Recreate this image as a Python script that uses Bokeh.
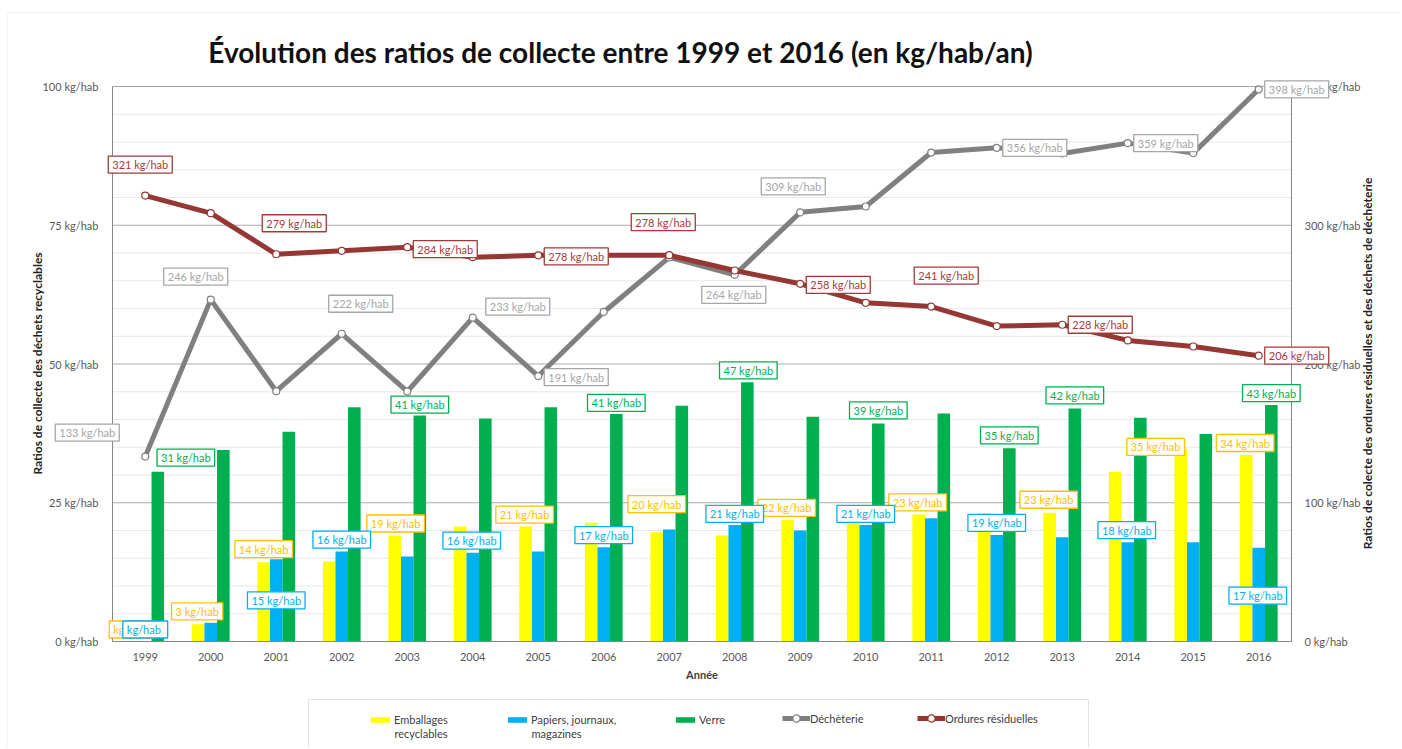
import math
from bokeh.plotting import figure
from bokeh.models import (Range1d, LinearAxis, FixedTicker, Label, Legend, LegendItem,
                          BoxAnnotation, CustomJSTickFormatter)
from bokeh.embed import file_html
from bokeh.resources import INLINE

# ---------------- data ----------------
years = [str(y) for y in range(1999, 2017)]
emballages = [0, 3.1, 14.3, 14.4, 19.1, 20.7, 20.7, 21.4, 19.7, 19.1, 21.9, 21.5, 22.9, 23.1, 23.2, 30.6, 34.7, 33.6]
papiers = [0, 3.4, 14.8, 16.2, 15.3, 16.0, 16.2, 17.0, 20.2, 21.0, 20.0, 21.0, 22.2, 19.2, 18.8, 17.9, 17.9, 16.9]
verre = [30.6, 34.5, 37.8, 42.2, 40.7, 40.2, 42.2, 41.0, 42.5, 46.7, 40.5, 39.3, 41.1, 34.8, 42.0, 40.3, 37.4, 42.6]
decheterie = [133.3, 246.4, 180.4, 221.8, 180.2, 233.4, 191.3, 237.5, 276.8, 264.3, 309.3, 313.5, 352.4, 355.8, 351.7, 359.2, 352.0, 398.0]
ordures = [321.4, 308.7, 279.1, 281.6, 284.2, 277.0, 278.3, 278.3, 278.4, 267.4, 257.8, 244.1, 241.4, 227.3, 228.3, 217.0, 212.6, 206.0]
left_ticks = [0, 25, 50, 75, 100]
right_ticks = [0, 100, 200, 300, 400]
series_names = ["Emballages", "Papiers, journaux,", "Verre", "Déchèterie", "Ordures résiduelles"]
series_second_line = ["recyclables", "magazines"]
title_text = "Évolution des ratios de collecte entre 1999 et 2016 (en kg/hab/an)"
left_title = "Ratios de collecte des déchets recyclables"
right_title = "Ratios de colecte des ordures résiduelles et des déchets de déchèterie"
x_title = "Année"

# data-label placement (which points are labelled, pixel offsets of the label box)
emb_lab_idx = [0, 1, 2, 4, 6, 8, 10, 12, 14, 16, 17]
emb_lab_dx = [-1, -1, 0, 1, -1, 0, -1, -1, -1, -25, -1]
emb_lab_dy = [-12, -13, -13, -12, -12, -28, -12, -12, -13, -2, -12]
pap_lab_idx = [0, 2, 3, 5, 7, 9, 11, 13, 15, 17]
pap_lab_dx = [0, 0, 0, -1, 0, 0, 0, 0, -1, -1]
pap_lab_dy = [-12, 41, -12, -12, -12, -11, -11, -12, -12, 48]
ver_lab_idx = [0, 4, 7, 9, 11, 13, 14, 17]
ver_lab_dx = [28, 0, 0, 1, 0, 0, 0, 0]
ver_lab_dy = [-14, -11, -11, -12, -13, -13, -13, -12]
dec_lab_idx = [0, 1, 3, 5, 6, 9, 10, 13, 15, 17]
dec_lab_dx = [-58, -15, 19, 45, 38, -1, -7, 38, 38, 38]
dec_lab_dy = [-24, -23, -30, -11, 1, 20, -26, 0, 0, 0]
ord_lab_idx = [0, 2, 4, 6, 8, 10, 12, 14, 17]
ord_lab_dx = [-5, 18, 38, 38, -6, 38, 15, 38, 38]
ord_lab_dy = [-31, -31, 2, 1, -33, 1, -31, 0, 0]

# ---------------- style / layout ----------------
FONT = "Lato"
C_YEL, C_BLU, C_GRN = "#FFFF00", "#00B0F0", "#00B050"
C_GRY, C_RED = "#808080", "#953735"
T_YEL, T_BLU, T_GRN, T_GRY, T_RED = "#FFC000", "#00B0F0", "#00B050", "#A6A6A6", "#A5393A"
TICK_COLOR = "#595959"

W, H = 1400, 747
PL, PR, PT, PB = 112, 1291, 86, 641      # plot-area edges in canvas pixels
n = len(years)
PX_X = (PR - PL) / n
PY_L = (PB - PT) / left_ticks[-1]
PY_R = (PB - PT) / right_ticks[-1]

def px_to_x(px):
    return (px - PL) / PX_X

def py_to_y(py):
    return (PB - py) / PY_L

p = figure(width=W, height=H, output_backend="svg", toolbar_location=None,
           x_range=Range1d(px_to_x(0), px_to_x(W)),
           y_range=Range1d(py_to_y(H), py_to_y(0)),
           min_border_left=0, min_border_right=0, min_border_top=0, min_border_bottom=0,
           background_fill_color="white", border_fill_color="white")
p.extra_y_ranges = {"right": Range1d(-(H - PB) / PY_R, PB / PY_R)}
p.outline_line_color = None
p.xgrid.visible = False
p.ygrid.visible = False

def style_axis(ax):
    ax.axis_line_color = "#868686"
    ax.major_tick_line_color = None
    ax.minor_tick_line_color = None
    ax.major_label_text_font = FONT
    ax.major_label_text_font_size = "11px"
    ax.major_label_text_color = TICK_COLOR

# left axis
ya = p.yaxis[0]
ya.fixed_location = 0
ya.bounds = (left_ticks[0], left_ticks[-1])
ya.ticker = FixedTicker(ticks=left_ticks)
ya.formatter = CustomJSTickFormatter(code="return tick + ' kg/hab'")
ya.major_label_standoff = 8
style_axis(ya)

# right axis
ra = LinearAxis(y_range_name="right", ticker=FixedTicker(ticks=right_ticks),
                formatter=CustomJSTickFormatter(code="return tick + ' kg/hab'"))
ra.fixed_location = n
ra.bounds = (right_ticks[0], right_ticks[-1])
ra.major_label_standoff = 7
style_axis(ra)
p.add_layout(ra, "right")

# x axis
xa = p.xaxis[0]
xa.fixed_location = 0
xa.bounds = (0, n)
xa.ticker = FixedTicker(ticks=[i + 0.5 for i in range(n)])
xa.major_label_overrides = {i + 0.5: years[i] for i in range(n)}
xa.major_label_standoff = 5
style_axis(xa)

# grid lines (limited to the plot area)
minor_vals = [v for v in range(0, left_ticks[-1], 5) if v not in left_ticks]
p.segment(x0=[0] * len(minor_vals), x1=[n] * len(minor_vals), y0=minor_vals, y1=minor_vals,
          line_color="#E8E8E8", line_width=1)
p.segment(x0=[0] * 3, x1=[n] * 3, y0=left_ticks[1:4], y1=left_ticks[1:4],
          line_color="#ABABAB", line_width=1)
p.segment(x0=[0], x1=[n], y0=[left_ticks[-1]], y1=[left_ticks[-1]],
          line_color="#A6A6A6", line_width=1)

# ---------------- glyphs ----------------
BW = 0.192
xs = [i + 0.5 for i in range(n)]
r_emb = p.vbar(x=[x - BW for x in xs], top=emballages, width=BW, fill_color=C_YEL, line_color=None)
r_pap = p.vbar(x=xs, top=papiers, width=BW, fill_color=C_BLU, line_color=None)
r_ver = p.vbar(x=[x + BW for x in xs], top=verre, width=BW, fill_color=C_GRN, line_color=None)

r_dec_l = p.line(xs, decheterie, y_range_name="right", line_color=C_GRY, line_width=5)
r_dec_m = p.scatter(xs, decheterie, y_range_name="right", size=7, fill_color="white",
                    line_color=C_GRY, line_width=1.2)
r_ord_l = p.line(xs, ordures, y_range_name="right", line_color=C_RED, line_width=5)
r_ord_m = p.scatter(xs, ordures, y_range_name="right", size=7, fill_color="white",
                    line_color=C_RED, line_width=1.2)

# ---------------- data labels ----------------
def lab_text(v):
    r = int(round(v))
    return f"{r} kg/hab" if r != 0 else " kg/hab"

def add_labels(vals, idx, dxs, dys, shift, color, yname="default"):
    for i, dx, dy in zip(idx, dxs, dys):
        kw = {}
        if yname != "default":
            kw["y_range_name"] = yname
        p.add_layout(Label(x=xs[i] + shift, y=vals[i], x_offset=dx, y_offset=-dy,
                           text=lab_text(vals[i]), text_align="center", text_baseline="middle",
                           text_font=FONT, text_font_size="11px", text_color=color,
                           background_fill_color="white", border_line_color=color,
                           border_line_width=1.3,
                           padding=dict(left=4, right=4, top=2, bottom=2), **kw))

add_labels(emballages, emb_lab_idx, emb_lab_dx, emb_lab_dy, -BW, T_YEL)
add_labels(papiers, pap_lab_idx, pap_lab_dx, pap_lab_dy, 0, T_BLU)
add_labels(verre, ver_lab_idx, ver_lab_dx, ver_lab_dy, BW, T_GRN)
add_labels(decheterie, dec_lab_idx, dec_lab_dx, dec_lab_dy, 0, T_GRY, "right")
add_labels(ordures, ord_lab_idx, ord_lab_dx, ord_lab_dy, 0, T_RED, "right")

# ---------------- titles ----------------
p.add_layout(Label(x=px_to_x(620), y=py_to_y(51), text=title_text, text_align="center",
                   text_baseline="middle", text_font=FONT, text_font_size="28px",
                   text_font_style="bold", text_color="#111111"))
p.add_layout(Label(x=px_to_x(37), y=py_to_y(363), text=left_title, angle=math.pi / 2,
                   text_align="center", text_baseline="middle", text_font=FONT,
                   text_font_size="12px", text_font_style="bold", text_color="#222222"))
p.add_layout(Label(x=px_to_x(1367), y=py_to_y(363), text=right_title, angle=math.pi / 2,
                   text_align="center", text_baseline="middle", text_font=FONT,
                   text_font_size="12px", text_font_style="bold", text_color="#222222"))
p.add_layout(Label(x=n / 2, y=py_to_y(674), text=x_title, text_align="center",
                   text_baseline="middle", text_font=FONT, text_font_size="11px",
                   text_font_style="bold", text_color="#404040"))

# chart area border and legend box
p.add_layout(BoxAnnotation(left=px_to_x(7), right=px_to_x(W + 50), top=py_to_y(12), bottom=py_to_y(H + 50),
                           fill_alpha=0, line_color="#D9D9D9", line_width=1))
p.add_layout(BoxAnnotation(left=px_to_x(308), right=px_to_x(1088), top=py_to_y(699), bottom=py_to_y(H + 50),
                           fill_alpha=0, line_color="#A0A0A0", line_width=1))

# ---------------- legend ----------------
leg_items = [
    (series_names[0], [r_emb], 368, 7, 725.5),
    (series_names[1], [r_pap], 505, 7, 725.5),
    (series_names[2], [r_ver], 673, 7, 725.5),
    (series_names[3], [r_dec_l, r_dec_m], 782, 18, 727),
    (series_names[4], [r_ord_l, r_ord_m], 917, 18, 727),
]
for label, rends, px, gh, bottom in leg_items:
    lg = Legend(items=[LegendItem(label=label, renderers=rends)], location=(px, H - bottom),
                orientation="horizontal", padding=0, margin=0, spacing=0,
                glyph_width=24 if gh == 7 else 28, glyph_height=gh, label_height=gh,
                label_width=10, label_standoff=2 if gh == 7 else 0,
                border_line_color=None, background_fill_alpha=0,
                label_text_font=FONT, label_text_font_size="11px", label_text_color="#404040")
    p.add_layout(lg, "center")

for txt, px in zip(series_second_line, [394, 531]):
    p.add_layout(Label(x=px_to_x(px), y=py_to_y(733), text=txt, text_align="left",
                       text_baseline="middle", text_font=FONT, text_font_size="11px",
                       text_color="#404040"))

open("out.html", "w").write(file_html(p, INLINE))
